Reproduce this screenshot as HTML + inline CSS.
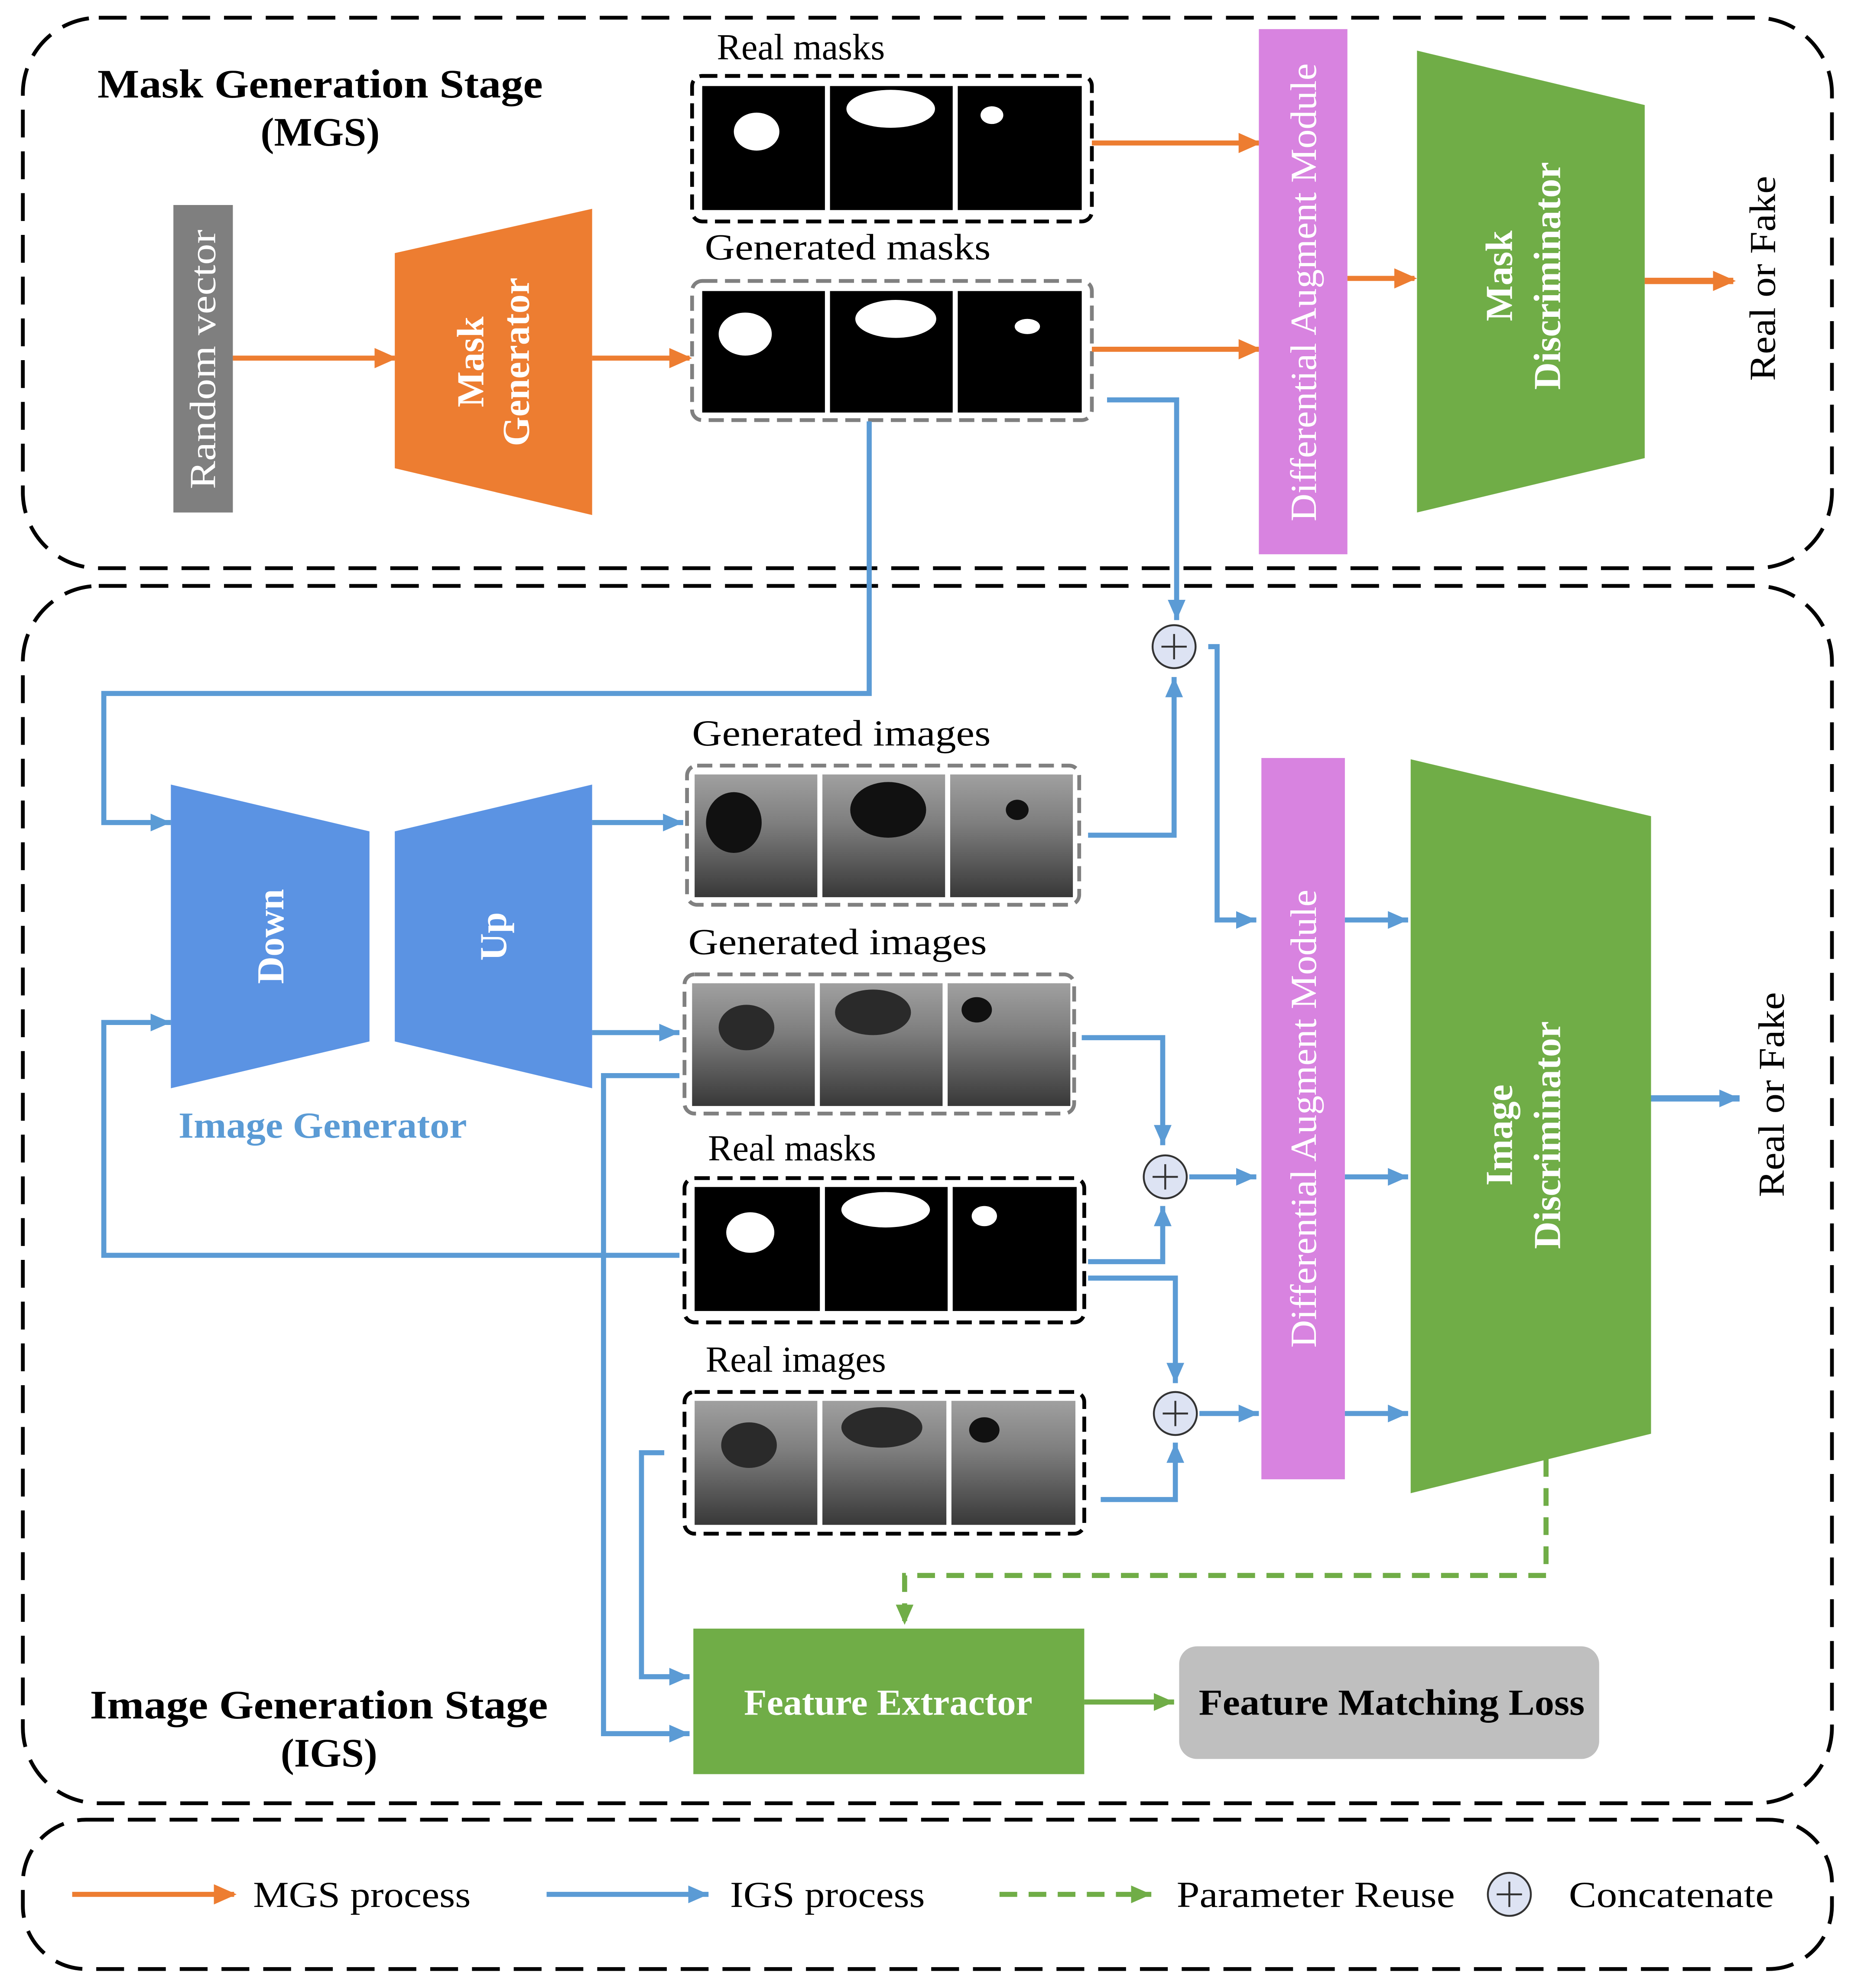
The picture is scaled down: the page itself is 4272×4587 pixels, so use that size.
<!DOCTYPE html>
<html><head><meta charset="utf-8"><style>html,body{margin:0;padding:0;background:#fff}svg{display:block}</style></head><body>
<svg xmlns="http://www.w3.org/2000/svg" width="4272" height="4587" viewBox="0 0 1463 1571">
<defs>
<marker id="ao" markerUnits="userSpaceOnUse" markerWidth="20" markerHeight="20" refX="16" refY="10" orient="auto"><path d="M0,2 L18,10 L0,18 z" fill="#ed7d31"/></marker>
<marker id="ab" markerUnits="userSpaceOnUse" markerWidth="20" markerHeight="20" refX="16" refY="10" orient="auto"><path d="M0,3 L16,10 L0,17 z" fill="#5b9bd5"/></marker>
<marker id="ag" markerUnits="userSpaceOnUse" markerWidth="20" markerHeight="20" refX="16" refY="10" orient="auto"><path d="M0,3 L16,10 L0,17 z" fill="#70ad47"/></marker>
<linearGradient id="us" x1="0" y1="0" x2="0" y2="1"><stop offset="0" stop-color="#a0a0a0"/><stop offset="0.4" stop-color="#7e7e7e"/><stop offset="1" stop-color="#383838"/></linearGradient>
</defs>
<style>
text{font-family:"Liberation Serif",serif;fill:#000}
.lbl{font-size:29px}
.w{fill:#fff}
.b{font-weight:bold}
</style>
<rect x="18" y="14" width="1430" height="435" rx="60" fill="none" stroke="#000" stroke-width="3" stroke-dasharray="22 11"/>
<rect x="18" y="463" width="1430" height="962" rx="60" fill="none" stroke="#000" stroke-width="3" stroke-dasharray="22 11"/>
<rect x="18" y="1438" width="1430" height="118" rx="50" fill="none" stroke="#000" stroke-width="3" stroke-dasharray="22 11"/>

<text x="77" y="77" font-size="32" class="b" textLength="352" lengthAdjust="spacingAndGlyphs">Mask Generation Stage</text>
<text x="253" y="115" font-size="32" class="b" text-anchor="middle">(MGS)</text>
<text x="71" y="1358" font-size="32" class="b" textLength="362" lengthAdjust="spacingAndGlyphs">Image Generation Stage</text>
<text x="260" y="1396" font-size="32" class="b" text-anchor="middle">(IGS)</text>

<rect x="137" y="162" width="47" height="243" fill="#7f7f7f"/>
<text transform="translate(170,284) rotate(-90)" font-size="29" class="w" text-anchor="middle" textLength="205" lengthAdjust="spacingAndGlyphs">Random vector</text>
<line x1="184" y1="283" x2="312" y2="283" stroke="#ed7d31" stroke-width="4" marker-end="url(#ao)"/>
<polygon points="312,200 468,165 468,407 312,370" fill="#ed7d31"/>
<text transform="translate(390,286) rotate(-90)" font-size="30" class="w b" text-anchor="middle"><tspan x="0" dy="-8">Mask</tspan><tspan x="0" dy="36">Generator</tspan></text>
<line x1="468" y1="283" x2="545" y2="283" stroke="#ed7d31" stroke-width="4" marker-end="url(#ao)"/>

<text x="633" y="47" class="lbl" text-anchor="middle">Real masks</text>
<rect x="547" y="60" width="316" height="115" rx="8" fill="none" stroke="#000" stroke-width="3" stroke-dasharray="12 6"/>
<rect x="555" y="68" width="97" height="98" fill="#000"/><rect x="656" y="68" width="97" height="98" fill="#000"/><rect x="757" y="68" width="98" height="98" fill="#000"/>
<ellipse cx="598" cy="104" rx="18" ry="15" fill="#fff"/><ellipse cx="704" cy="86" rx="35" ry="15" fill="#fff"/><ellipse cx="784" cy="91" rx="9" ry="7" fill="#fff"/>
<text x="670" y="205" class="lbl" text-anchor="middle" textLength="226" lengthAdjust="spacingAndGlyphs">Generated masks</text>
<rect x="547" y="222" width="316" height="110" rx="8" fill="none" stroke="#808080" stroke-width="3" stroke-dasharray="12 6"/>
<rect x="555" y="230" width="97" height="96" fill="#000"/><rect x="656" y="230" width="97" height="96" fill="#000"/><rect x="757" y="230" width="98" height="96" fill="#000"/>
<ellipse cx="589" cy="264" rx="21" ry="17" fill="#fff"/><ellipse cx="708" cy="252" rx="32" ry="15" fill="#fff"/><ellipse cx="812" cy="258" rx="10" ry="6" fill="#fff"/>

<line x1="863" y1="113" x2="995" y2="113" stroke="#ed7d31" stroke-width="4" marker-end="url(#ao)"/>
<line x1="863" y1="276" x2="995" y2="276" stroke="#ed7d31" stroke-width="4" marker-end="url(#ao)"/>
<rect x="995" y="23" width="70" height="415" fill="#d883e0"/>
<text transform="translate(1040,231) rotate(-90)" font-size="29" class="w" text-anchor="middle" textLength="362" lengthAdjust="spacingAndGlyphs">Differential Augment Module</text>
<line x1="1065" y1="220" x2="1118" y2="220" stroke="#ed7d31" stroke-width="4" marker-end="url(#ao)"/>
<polygon points="1120,40 1300,83 1300,362 1120,405" fill="#70ad47"/>
<text transform="translate(1205,218) rotate(-90)" font-size="30" class="w b" text-anchor="middle"><tspan x="0" dy="-10">Mask</tspan><tspan x="0" dy="38">Discriminator</tspan></text>
<line x1="1300" y1="222" x2="1370" y2="222" stroke="#ed7d31" stroke-width="5" marker-end="url(#ao)"/>
<text transform="translate(1403,220) rotate(-90)" font-size="29" text-anchor="middle" textLength="162" lengthAdjust="spacingAndGlyphs">Real or Fake</text>

<g fill="none" stroke="#5b9bd5" stroke-width="4">
<polyline points="875,316 930,316 930,490" marker-end="url(#ab)"/>
<polyline points="687,333 687,548 82,548 82,650 135,650" marker-end="url(#ab)"/>
<polyline points="860,660 928,660 928,535" marker-end="url(#ab)"/>
<polyline points="955,511 962,511 962,727 993,727" marker-end="url(#ab)"/>
<polyline points="537,992 82,992 82,808 135,808" marker-end="url(#ab)"/>
<line x1="468" y1="650" x2="540" y2="650" marker-end="url(#ab)"/>
<line x1="468" y1="816" x2="537" y2="816" marker-end="url(#ab)"/>
<polyline points="855,820 919,820 919,905" marker-end="url(#ab)"/>
<polyline points="860,997 919,997 919,953" marker-end="url(#ab)"/>
<line x1="940" y1="930" x2="993" y2="930" marker-end="url(#ab)"/>
<polyline points="860,1010 929,1010 929,1093" marker-end="url(#ab)"/>
<polyline points="870,1185 929,1185 929,1140" marker-end="url(#ab)"/>
<line x1="948" y1="1117" x2="995" y2="1117" marker-end="url(#ab)"/>
<line x1="1063" y1="727" x2="1113" y2="727" marker-end="url(#ab)"/>
<line x1="1063" y1="930" x2="1113" y2="930" marker-end="url(#ab)"/>
<line x1="1063" y1="1117" x2="1113" y2="1117" marker-end="url(#ab)"/>
<line x1="1305" y1="868" x2="1375" y2="868" stroke-width="5" marker-end="url(#ab)"/>
<polyline points="537,850 477,850 477,1370 545,1370" marker-end="url(#ab)"/>
<polyline points="525,1148 507,1148 507,1325 545,1325" marker-end="url(#ab)"/>
</g>
<g fill="#dde3f3" stroke="#333" stroke-width="1.5">
<circle cx="928" cy="511" r="17"/><circle cx="921" cy="930" r="17"/><circle cx="929" cy="1117" r="17"/><circle cx="1193" cy="1497" r="17"/>
</g>
<g stroke="#333" stroke-width="1.5">
<path d="M918,511h20M928,501v20M911,930h20M921,920v20M919,1117h20M929,1107v20M1183,1497h20M1193,1487v20"/>
</g>

<polygon points="135,620 292,657 292,823 135,860" fill="#5b93e3"/>
<polygon points="312,657 468,620 468,860 312,823" fill="#5b93e3"/>
<text transform="translate(224,740) rotate(-90)" font-size="30" class="w b" text-anchor="middle">Down</text>
<text transform="translate(400,740) rotate(-90)" font-size="30" class="w b" text-anchor="middle">Up</text>
<text x="255" y="899" font-size="29" class="b" text-anchor="middle" style="fill:#5b9bd5" textLength="228" lengthAdjust="spacingAndGlyphs">Image Generator</text>

<text x="665" y="589" class="lbl" text-anchor="middle" textLength="236" lengthAdjust="spacingAndGlyphs">Generated images</text>
<rect x="543" y="605" width="310" height="110" rx="8" fill="none" stroke="#808080" stroke-width="3" stroke-dasharray="12 6"/>
<rect x="549" y="612" width="97" height="97" fill="url(#us)"/><rect x="650" y="612" width="97" height="97" fill="url(#us)"/><rect x="751" y="612" width="97" height="97" fill="url(#us)"/>
<ellipse cx="580" cy="650" rx="22" ry="24" fill="#111"/><ellipse cx="702" cy="640" rx="30" ry="22" fill="#111"/><ellipse cx="804" cy="640" rx="9" ry="8" fill="#111"/>
<text x="662" y="754" class="lbl" text-anchor="middle" textLength="236" lengthAdjust="spacingAndGlyphs">Generated images</text>
<rect x="541" y="770" width="308" height="110" rx="8" fill="none" stroke="#808080" stroke-width="3" stroke-dasharray="12 6"/>
<rect x="547" y="777" width="97" height="97" fill="url(#us)"/><rect x="648" y="777" width="97" height="97" fill="url(#us)"/><rect x="749" y="777" width="97" height="97" fill="url(#us)"/>
<ellipse cx="590" cy="812" rx="22" ry="18" fill="#2a2a2a"/><ellipse cx="690" cy="800" rx="30" ry="18" fill="#2a2a2a"/><ellipse cx="772" cy="798" rx="12" ry="10" fill="#111"/>
<text x="626" y="917" class="lbl" text-anchor="middle">Real masks</text>
<rect x="541" y="931" width="316" height="114" rx="8" fill="none" stroke="#000" stroke-width="3" stroke-dasharray="12 6"/>
<rect x="549" y="938" width="99" height="98" fill="#000"/><rect x="652" y="938" width="97" height="98" fill="#000"/><rect x="753" y="938" width="98" height="98" fill="#000"/>
<ellipse cx="593" cy="974" rx="19" ry="16" fill="#fff"/><ellipse cx="700" cy="956" rx="35" ry="14" fill="#fff"/><ellipse cx="778" cy="961" rx="10" ry="8" fill="#fff"/>
<text x="629" y="1084" class="lbl" text-anchor="middle">Real images</text>
<rect x="541" y="1100" width="316" height="112" rx="8" fill="none" stroke="#000" stroke-width="3" stroke-dasharray="12 6"/>
<rect x="549" y="1107" width="97" height="98" fill="url(#us)"/><rect x="650" y="1107" width="98" height="98" fill="url(#us)"/><rect x="752" y="1107" width="98" height="98" fill="url(#us)"/>
<ellipse cx="592" cy="1142" rx="22" ry="18" fill="#2a2a2a"/><ellipse cx="697" cy="1128" rx="32" ry="16" fill="#2a2a2a"/><ellipse cx="778" cy="1130" rx="12" ry="10" fill="#111"/>

<rect x="997" y="599" width="66" height="570" fill="#d883e0"/>
<text transform="translate(1040,884) rotate(-90)" font-size="29" class="w" text-anchor="middle" textLength="362" lengthAdjust="spacingAndGlyphs">Differential Augment Module</text>
<polygon points="1115,600 1305,645 1305,1133 1115,1180" fill="#70ad47"/>
<text transform="translate(1205,897) rotate(-90)" font-size="30" class="w b" text-anchor="middle"><tspan x="0" dy="-10">Image</tspan><tspan x="0" dy="38">Discriminator</tspan></text>
<text transform="translate(1410,865) rotate(-90)" font-size="29" text-anchor="middle" textLength="162" lengthAdjust="spacingAndGlyphs">Real or Fake</text>

<polyline points="1222,1153 1222,1245 715,1245 715,1284" fill="none" stroke="#70ad47" stroke-width="4" stroke-dasharray="14 9" marker-end="url(#ag)"/>
<rect x="548" y="1287" width="309" height="115" fill="#70ad47"/>
<text x="702" y="1355" font-size="29" class="b w" text-anchor="middle" textLength="228" lengthAdjust="spacingAndGlyphs">Feature Extractor</text>
<line x1="857" y1="1345" x2="928" y2="1345" stroke="#70ad47" stroke-width="4" marker-end="url(#ag)"/>
<rect x="932" y="1301" width="332" height="89" rx="14" fill="#bfbfbf"/>
<text x="1100" y="1355" font-size="29" class="b" text-anchor="middle" textLength="305" lengthAdjust="spacingAndGlyphs">Feature Matching Loss</text>

<line x1="57" y1="1497" x2="185" y2="1497" stroke="#ed7d31" stroke-width="4" marker-end="url(#ao)"/>
<text x="200" y="1507" class="lbl" textLength="172" lengthAdjust="spacingAndGlyphs">MGS process</text>
<line x1="432" y1="1497" x2="560" y2="1497" stroke="#5b9bd5" stroke-width="4" marker-end="url(#ab)"/>
<text x="577" y="1507" class="lbl" textLength="154" lengthAdjust="spacingAndGlyphs">IGS process</text>
<line x1="790" y1="1497" x2="910" y2="1497" stroke="#70ad47" stroke-width="4" stroke-dasharray="14 9" marker-end="url(#ag)"/>
<text x="930" y="1507" class="lbl" textLength="220" lengthAdjust="spacingAndGlyphs">Parameter Reuse</text>
<text x="1240" y="1507" class="lbl" textLength="162" lengthAdjust="spacingAndGlyphs">Concatenate</text>
</svg>
</body></html>
